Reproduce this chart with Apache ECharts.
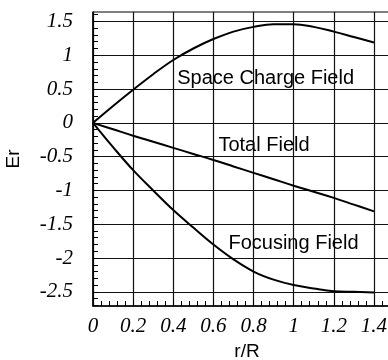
<!DOCTYPE html>
<html>
<head>
<meta charset="utf-8">
<script src="https://cdn.jsdelivr.net/npm/echarts@6/dist/echarts.min.js"></script>
<style>
  html, body { margin: 0; padding: 0; background: #fff; }
  #main { width: 388px; height: 360px; }
</style>
</head>
<body>
<div id="main"></div>
<script>
// r/R sample points and the three field curves
var rValues = [0, 0.1, 0.2, 0.3, 0.4, 0.5, 0.6, 0.7, 0.8, 0.9, 1.0, 1.1, 1.2, 1.3, 1.4];
var spaceCharge = [0, 0.25, 0.49, 0.72, 0.93, 1.10, 1.24, 1.35, 1.42, 1.46, 1.46, 1.42, 1.35, 1.27, 1.19];
var totalField = [0, -0.095, -0.19, -0.28, -0.37, -0.46, -0.55, -0.645, -0.74, -0.835, -0.93, -1.02, -1.11, -1.21, -1.31];
var focusing = [0, -0.36, -0.70, -1.0, -1.29, -1.55, -1.80, -2.02, -2.20, -2.32, -2.40, -2.45, -2.49, -2.50, -2.51];

var xTicks = [0, 0.2, 0.4, 0.6, 0.8, 1, 1.2, 1.4];
var yTicks = [-2.5, -2, -1.5, -1, -0.5, 0, 0.5, 1, 1.5];

// curve captions: text, r, Er (left edge / middle)
var captions = [
  ['Space Charge Field', 0.42, 0.65],
  ['Total Field', 0.625, -0.34],
  ['Focusing Field', 0.675, -1.79]
];

var xMin = 0, xMax = 1.475, yMin = -2.71, yMax = 1.64;

// small ticks every 0.04 on x and 0.1 on y
var xMinor = [];
for (var i = 0; i * 0.04 <= xMax; i++) xMinor.push(Math.round(i * 4) / 100);
var yMinor = [];
for (var j = -27; j <= 16; j++) yMinor.push(j / 10);

function pairs(ys) {
  var out = [];
  for (var k = 0; k < rValues.length; k++) out.push([rValues[k], ys[k]]);
  return out;
}

var tickFont = { fontFamily: 'Liberation Serif', fontStyle: 'italic', fontSize: 21, color: '#000' };

function curve(name, ys, marks) {
  var s = {
    name: name,
    type: 'line',
    data: pairs(ys),
    smooth: 0.4,
    symbol: 'none',
    lineStyle: { color: '#000', width: 2 },
    z: 5
  };
  if (marks) {
    s.markPoint = {
      symbol: 'circle',
      symbolSize: 0,
      data: marks.map(function (c) {
        return {
          coord: [c[1], c[2]],
          label: {
            show: true,
            position: 'inside',
            align: 'left',
            verticalAlign: 'middle',
            formatter: c[0],
            fontFamily: 'Liberation Sans',
            fontSize: 20,
            color: '#000'
          }
        };
      })
    };
  }
  return s;
}

var option = {
  animation: false,
  backgroundColor: '#fff',
  grid: {
    left: 93, top: 12, right: -1, bottom: 54,
    outerBoundsMode: 'none',
    containLabel: false,
    show: true, borderColor: '#000', borderWidth: 1, backgroundColor: 'transparent'
  },
  xAxis: [
    {
      type: 'value', min: xMin, max: xMax,
      name: 'r/R', nameLocation: 'middle', nameGap: 36,
      nameTextStyle: { fontFamily: 'Liberation Sans', fontSize: 19, color: '#000', padding: [0, 0, 0, 12] },
      axisLine: { show: true, onZero: false, lineStyle: { color: '#000', width: 1.5 } },
      axisTick: { show: false, customValues: xTicks },
      axisLabel: Object.assign({ customValues: xTicks, margin: 10 }, tickFont),
      splitLine: { show: true, lineStyle: { color: '#111', width: 1.2 } }
    },
    {
      type: 'value', min: xMin, max: xMax, position: 'bottom',
      axisLine: { show: false, onZero: false },
      axisTick: { show: true, inside: true, length: 5, customValues: xMinor, lineStyle: { color: '#000', width: 1 } },
      axisLabel: { show: false },
      splitLine: { show: false }
    }
  ],
  yAxis: [
    {
      type: 'value', min: yMin, max: yMax,
      name: 'Er', nameLocation: 'middle', nameGap: 70, nameRotate: 90,
      nameTextStyle: { fontFamily: 'Liberation Sans', fontSize: 19, color: '#000' },
      axisLine: { show: true, onZero: false, lineStyle: { color: '#000', width: 1.5 } },
      axisTick: { show: false, customValues: yTicks },
      axisLabel: Object.assign({ customValues: yTicks, margin: 20 }, tickFont),
      splitLine: { show: true, lineStyle: { color: '#111', width: 1.2 } }
    },
    {
      type: 'value', min: yMin, max: yMax, position: 'left',
      axisLine: { show: false, onZero: false },
      axisTick: { show: true, inside: true, length: 5, customValues: yMinor, lineStyle: { color: '#000', width: 1 } },
      axisLabel: { show: false },
      splitLine: { show: false }
    }
  ],
  series: [
    curve('Space Charge Field', spaceCharge, [captions[0]]),
    curve('Total Field', totalField, [captions[1]]),
    curve('Focusing Field', focusing, [captions[2]])
  ]
};

echarts.init(document.getElementById('main')).setOption(option);
</script>
</body>
</html>
